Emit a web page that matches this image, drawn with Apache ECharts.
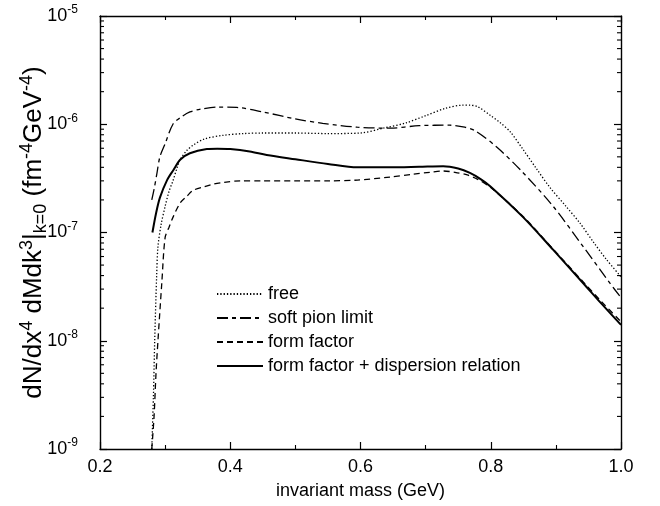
<!DOCTYPE html>
<html>
<head>
<meta charset="utf-8">
<script src="https://cdn.jsdelivr.net/npm/echarts@6/dist/echarts.min.js"></script>
<style>
html,body{margin:0;padding:0;background:#fff;}
#c{width:660px;height:506px;}
</style>
</head>
<body>
<div id="c"></div>
<script>
// ---- data ----
const freeM = [0.2795,0.282,0.284,0.287,0.289,0.294,0.300,0.306,0.312,0.318,0.323,0.333,0.343,0.36,0.389,0.42,0.45,0.5,0.55,0.6,0.635,0.67,0.7,0.73,0.757,0.768,0.78,0.8,0.814,0.83,0.85,0.87,0.891,0.915,0.937,0.958,0.978,1.0];
const freeV = [1e-9,3e-9,1e-8,4e-8,7.4e-8,1.2e-7,1.74e-7,2.4e-7,3.0e-7,3.9e-7,4.7e-7,5.7e-7,6.4e-7,7.3e-7,7.9e-7,8.2e-7,8.3e-7,8.3e-7,8.2e-7,8.3e-7,9.2e-7,1.03e-6,1.2e-6,1.4e-6,1.5e-6,1.5e-6,1.45e-6,1.2e-6,1.04e-6,8.5e-7,5.8e-7,3.9e-7,2.6e-7,1.76e-7,1.22e-7,8.1e-8,5.6e-8,3.9e-8];

const pionM = [0.2795,0.283,0.287,0.292,0.3,0.312,0.325,0.338,0.355,0.38,0.41,0.45,0.5,0.542,0.595,0.645,0.69,0.737,0.76,0.776,0.81,0.85,0.896,0.942,0.983,1.0];
const pionV = [2.0e-7,2.5e-7,3.4e-7,5.0e-7,6.6e-7,1.0e-6,1.17e-6,1.3e-6,1.38e-6,1.44e-6,1.43e-6,1.3e-6,1.12e-6,1.02e-6,9.4e-7,9.2e-7,9.7e-7,9.8e-7,9.4e-7,8.7e-7,6.1e-7,3.55e-7,1.74e-7,7.4e-8,3.4e-8,2.5e-8];

const ffM = [0.2795,0.283,0.286,0.289,0.295,0.3,0.306,0.312,0.323,0.333,0.343,0.36,0.374,0.39,0.415,0.45,0.5,0.55,0.595,0.645,0.68,0.707,0.727,0.745,0.764,0.78,0.8,0.85,0.896,0.942,0.97,1.0];
const ffV = [1e-9,2e-9,5e-9,1e-8,3.5e-8,9e-8,1.12e-7,1.38e-7,1.87e-7,2.15e-7,2.45e-7,2.65e-7,2.8e-7,2.9e-7,3.0e-7,3.0e-7,3.0e-7,3.0e-7,3.05e-7,3.25e-7,3.45e-7,3.6e-7,3.7e-7,3.6e-7,3.4e-7,3.1e-7,2.6e-7,1.4e-7,7.0e-8,3.5e-8,2.3e-8,1.5e-8];

const dispM = [0.2805,0.286,0.292,0.303,0.313,0.323,0.338,0.364,0.38,0.4,0.43,0.456,0.5,0.55,0.595,0.645,0.69,0.727,0.75,0.768,0.785,0.8,0.85,0.896,0.942,0.97,1.0];
const dispV = [1e-7,1.5e-7,2.1e-7,3.05e-7,3.8e-7,4.7e-7,5.4e-7,5.9e-7,5.95e-7,5.9e-7,5.6e-7,5.2e-7,4.75e-7,4.3e-7,4.0e-7,4.0e-7,4.05e-7,4.1e-7,3.9e-7,3.55e-7,3.1e-7,2.65e-7,1.38e-7,6.9e-8,3.4e-8,2.2e-8,1.4e-8];

const seriesNames = ['free','soft pion limit','form factor','form factor + dispersion relation'];

// axis ticks
const xMin = 0.2, xMax = 1.0, xStep = 0.2;
const yMin = 1e-9, yMax = 1e-5;
const yMinor = [];
for (let e = -9; e < -5; e++) { for (let k = 2; k <= 9; k++) yMinor.push(k * Math.pow(10, e)); }

const FONT = '"Liberation Sans", Arial, Helvetica, sans-serif';
const pairs = (m, v) => m.map((x, i) => [x, v[i]]);

const xBase = {
  type: 'value', min: xMin, max: xMax, interval: xStep,
  axisLine: {show: true, onZero: false, lineStyle: {color: '#000', width: 1.4}},
  axisTick: {show: true, inside: true, length: 7, lineStyle: {color: '#000', width: 1.2}},
  minorTick: {show: true, splitNumber: 2, length: 4, lineStyle: {color: '#000', width: 1.1}},
  splitLine: {show: false}, minorSplitLine: {show: false}
};
const yBase = {
  type: 'log', logBase: 10, min: yMin, max: yMax,
  axisLine: {show: true, onZero: false, lineStyle: {color: '#000', width: 1.4}},
  axisTick: {show: true, inside: true, length: 7, lineStyle: {color: '#000', width: 1.2}},
  splitLine: {show: false}
};

const lineSeries = (name, m, v, lineStyle) => ({
  name, type: 'line', data: pairs(m, v), smooth: 0.3,
  symbol: 'none', clip: true, lineStyle: Object.assign({color: '#000'}, lineStyle), itemStyle: {color: '#000'}
});

const chart = echarts.init(document.getElementById('c'), null, {renderer: 'canvas'});
chart.setOption({
  animation: false,
  backgroundColor: '#fff',
  grid: {left: 100, right: 39, top: 16, bottom: 57, show: false},
  legend: {
    orient: 'vertical', left: 211, top: 279,
    itemWidth: 46, itemHeight: 14, itemGap: 4,
    data: seriesNames,
    itemStyle: {opacity: 0},
    textStyle: {fontFamily: FONT, fontSize: 18, color: '#000', lineHeight: 20},
    inactiveColor: '#000'
  },
  xAxis: [
    Object.assign({}, xBase, {
      position: 'bottom',
      name: 'invariant mass (GeV)', nameLocation: 'middle', nameGap: 33, nameMoveOverlap: false,
      nameTextStyle: {fontFamily: FONT, fontSize: 18, color: '#000'},
      axisLabel: {show: true, margin: 9, formatter: v => v.toFixed(1), fontFamily: FONT, fontSize: 18, color: '#000'}
    }),
    Object.assign({}, xBase, {position: 'top', axisLabel: {show: false}})
  ],
  yAxis: [
    Object.assign({}, yBase, {
      position: 'left',
      name: '{n|dN/dx}{p|4}{n| dMdk}{p|3}{n||}{b|k=0}{n| (fm}{p|-4}{n|GeV}{p|-4}{n|)}',
      nameLocation: 'middle', nameRotate: 90, nameGap: 50, nameMoveOverlap: false,
      nameTextStyle: {
        fontFamily: FONT, fontSize: 26, color: '#000',
        rich: {
          n: {fontFamily: FONT, fontSize: 26, color: '#000', lineHeight: 32, verticalAlign: 'middle'},
          p: {fontFamily: FONT, fontSize: 18, color: '#000', lineHeight: 32, verticalAlign: 'top'},
          b: {fontFamily: FONT, fontSize: 18, color: '#000', lineHeight: 32, verticalAlign: 'bottom'}
        }
      },
      axisLabel: {
        show: true, margin: 22,
        formatter: v => '{b|10}{s|' + Math.round(Math.log10(v)) + '}',
        rich: {
          b: {fontFamily: FONT, fontSize: 18, color: '#000', lineHeight: 24, verticalAlign: 'middle'},
          s: {fontFamily: FONT, fontSize: 12, color: '#000', lineHeight: 24, verticalAlign: 'top'}
        }
      }
    }),
    Object.assign({}, yBase, {position: 'right', axisLabel: {show: false}})
  ],
  series: [
    lineSeries(seriesNames[0], freeM, freeV, {width: 1.3, type: [1.3, 2]}),
    lineSeries(seriesNames[1], pionM, pionV, {width: 1.3, type: [11, 4, 4, 4]}),
    lineSeries(seriesNames[2], ffM, ffV, {width: 1.3, type: [6, 4]}),
    lineSeries(seriesNames[3], dispM, dispV, {width: 2, type: 'solid'}),
    {
      // minor log ticks (2..9 of each decade) on the left and right frame
      type: 'custom', silent: true, clip: false, z: 5,
      data: yMinor.map(v => [xMin, v]),
      renderItem: (params, api) => {
        const cs = params.coordSys;
        const y = api.coord([xMin, api.value(1)])[1];
        const st = {stroke: '#000', lineWidth: 1.1};
        return {type: 'group', children: [
          {type: 'line', shape: {x1: cs.x, y1: y, x2: cs.x + 4, y2: y}, style: st},
          {type: 'line', shape: {x1: cs.x + cs.width, y1: y, x2: cs.x + cs.width - 4, y2: y}, style: st}
        ]};
      }
    }
  ]
});
</script>
</body>
</html>
